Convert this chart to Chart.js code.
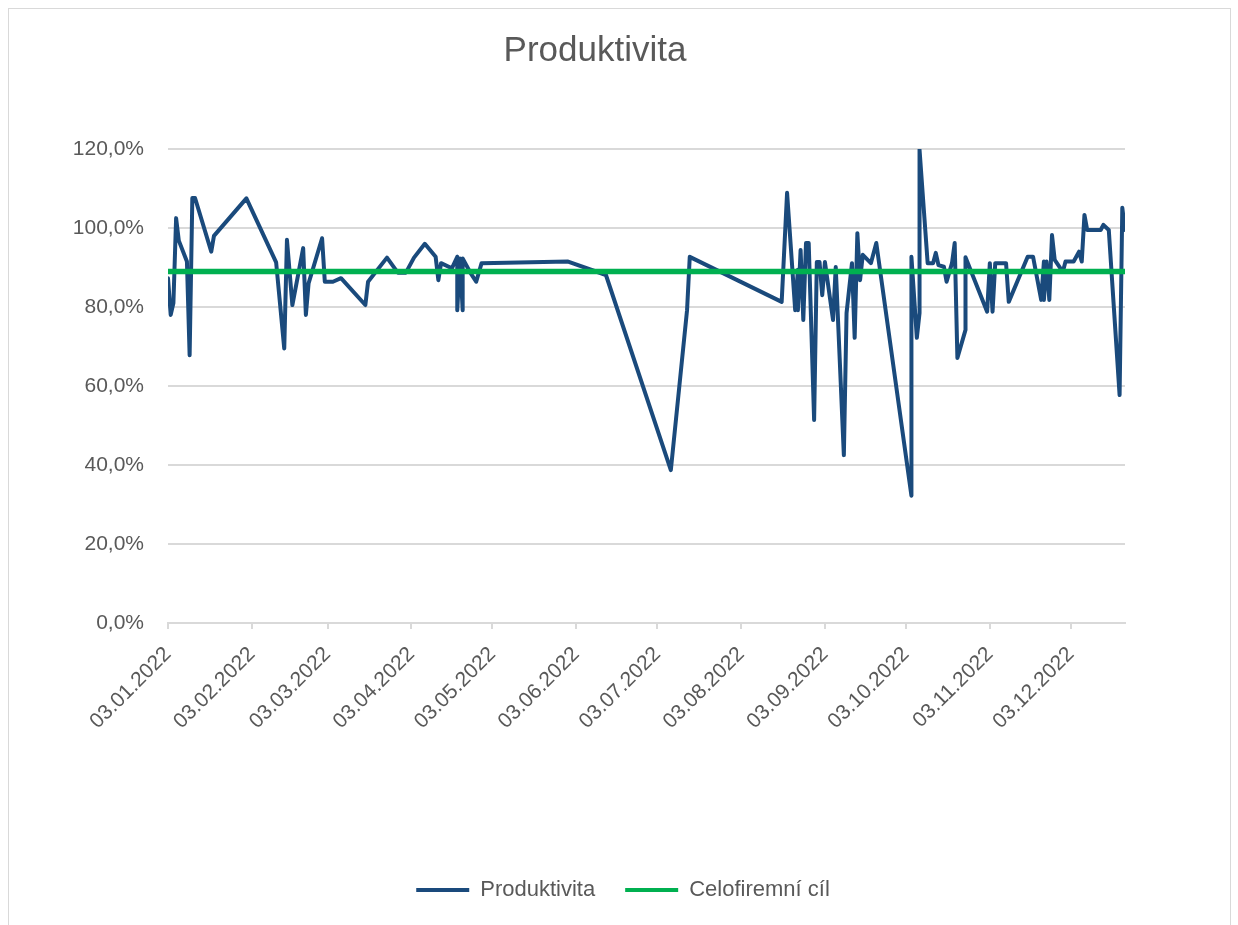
<!DOCTYPE html>
<html>
<head>
<meta charset="utf-8">
<script src="https://cdn.jsdelivr.net/npm/chart.js@4.4.0/dist/chart.umd.min.js"></script>
<style>
    html, body { margin: 0; padding: 0; background: #fff; }
    #wrap { position: relative; width: 1238px; height: 925px; overflow: hidden; }
    #frame { position: absolute; left: 8px; top: 8px; width: 1221px; height: 940px; border: 1px solid #d9d9d9; pointer-events: none; }
    canvas { position: absolute; left: 0; top: 0; }
</style>
</head>
<body>
<div id="wrap">
    <canvas id="myChart" width="1238" height="925"></canvas>
    <div id="frame"></div>
</div>
<script>
var datumy = [
    '03.01.2022', '04.01.2022', '05.01.2022', '06.01.2022', '07.01.2022', '10.01.2022', '11.01.2022',
    '12.01.2022', '13.01.2022', '19.01.2022', '20.01.2022', '01.02.2022', '12.02.2022', '15.02.2022',
    '16.02.2022', '18.02.2022', '22.02.2022', '23.02.2022', '24.02.2022', '01.03.2022', '02.03.2022',
    '05.03.2022', '08.03.2022', '17.03.2022', '18.03.2022', '25.03.2022', '29.03.2022', '01.04.2022',
    '04.04.2022', '08.04.2022', '12.04.2022', '13.04.2022', '14.04.2022', '18.04.2022', '20.04.2022',
    '20.04.2022', '21.04.2022', '22.04.2022', '22.04.2022', '25.04.2022', '27.04.2022', '29.04.2022',
    '31.05.2022', '14.06.2022', '08.07.2022', '14.07.2022', '15.07.2022', '18.08.2022', '20.08.2022',
    '23.08.2022', '24.08.2022', '24.08.2022', '25.08.2022', '26.08.2022', '27.08.2022', '28.08.2022',
    '30.08.2022', '31.08.2022', '01.09.2022', '02.09.2022', '03.09.2022', '06.09.2022', '07.09.2022',
    '10.09.2022', '11.09.2022', '13.09.2022', '14.09.2022', '15.09.2022', '16.09.2022', '17.09.2022',
    '20.09.2022', '22.09.2022', '05.10.2022', '05.10.2022', '07.10.2022', '08.10.2022', '08.10.2022',
    '11.10.2022', '13.10.2022', '14.10.2022', '15.10.2022', '17.10.2022', '18.10.2022', '20.10.2022',
    '21.10.2022', '22.10.2022', '25.10.2022', '25.10.2022', '02.11.2022', '03.11.2022', '04.11.2022',
    '05.11.2022', '09.11.2022', '10.11.2022', '17.11.2022', '19.11.2022', '22.11.2022', '23.11.2022',
    '23.11.2022', '24.11.2022', '25.11.2022', '26.11.2022', '27.11.2022', '30.11.2022', '01.12.2022',
    '04.12.2022', '06.12.2022', '07.12.2022', '08.12.2022', '09.12.2022', '14.12.2022', '15.12.2022',
    '17.12.2022', '21.12.2022', '22.12.2022', '23.12.2022'
];

var produktivita = [
    87.3, 78.0, 81.0, 102.5, 96.8, 91.5, 67.8,
    107.6, 107.6, 94.0, 98.0, 107.5, 91.3, 69.5,
    97.0, 80.5, 94.9, 78.0, 86.0, 97.4, 86.4,
    86.4, 87.3, 80.5, 86.4, 92.5, 88.7, 88.7,
    92.5, 96.0, 92.7, 86.8, 91.1, 89.8, 92.7,
    79.2, 92.3, 79.2, 92.3, 88.5, 86.4, 91.1,
    91.5, 88.1, 38.7, 79.2, 92.7, 81.3, 108.9,
    79.2, 89.4, 79.2, 94.4, 76.7, 96.2, 96.2,
    51.4, 91.4, 91.4, 83.0, 91.4, 76.7, 90.1,
    42.5, 78.5, 91.1, 72.2, 98.7, 86.8, 93.2,
    91.1, 96.2, 32.2, 92.7, 72.2, 78.5, 119.8,
    91.1, 91.1, 93.7, 90.6, 90.2, 86.4, 91.1,
    96.2, 67.1, 74.2, 92.6, 78.8, 91.1, 78.8,
    91.1, 91.1, 81.3, 92.7, 92.7, 81.8, 91.5,
    81.8, 91.5, 81.8, 98.2, 91.9, 88.9, 91.5,
    91.5, 94.0, 91.5, 103.3, 99.5, 99.5, 100.8,
    99.5, 57.7, 105.1, 99.5
];

var celofiremniCil = 89;

var tickDatumy = [
    '03.01.2022', '03.02.2022', '03.03.2022', '03.04.2022', '03.05.2022', '03.06.2022',
    '03.07.2022', '03.08.2022', '03.09.2022', '03.10.2022', '03.11.2022', '03.12.2022'
];

function denRoku(datum) {
    var casti = datum.split('.');
    var rok = +casti[2];
    var d = Date.UTC(rok, +casti[1] - 1, +casti[0]);
    return Math.round((d - Date.UTC(rok, 0, 1)) / 86400000) + 1;
}

var bodyProduktivita = datumy.map(function (datum, i) {
    return { x: denRoku(datum), y: produktivita[i] };
});

var bodyCil = [
    { x: denRoku(datumy[0]), y: celofiremniCil },
    { x: denRoku(datumy[datumy.length - 1]), y: celofiremniCil }
];

var tickDny = tickDatumy.map(denRoku);

// legenda je v originale o kus vpravo od stredu nadpisu
var posunLegendy = {
    id: 'posunLegendy',
    afterLayout: function (chart) {
        chart.legend.left += 28;
        chart.legend.right += 28;
    }
};

Chart.defaults.font.family = "'Liberation Sans', Arial, sans-serif";
Chart.defaults.color = '#595959';

var ctx = document.getElementById('myChart').getContext('2d');
var myChart = new Chart(ctx, {
    type: 'line',
    data: {
        datasets: [{
            label: 'Produktivita',
            data: bodyProduktivita,
            borderColor: '#1a4a7c',
            backgroundColor: '#1a4a7c',
            borderWidth: 4,
            pointRadius: 0,
            tension: 0,
            borderJoinStyle: 'round',
            borderCapStyle: 'round',
            order: 2
        }, {
            label: 'Celofiremní cíl',
            data: bodyCil,
            borderColor: '#00b050',
            backgroundColor: '#00b050',
            borderWidth: 5.5,
            pointRadius: 0,
            tension: 0,
            borderCapStyle: 'round',
            order: 1
        }]
    },
    plugins: [posunLegendy],
    options: {
        responsive: false,
        animation: false,
        events: [],
        layout: {
            padding: { left: 65, right: 113, top: 0, bottom: 14 }
        },
        scales: {
            x: {
                type: 'linear',
                min: denRoku(datumy[0]),
                max: denRoku(datumy[datumy.length - 1]),
                afterBuildTicks: function (scale) {
                    scale.ticks = tickDny.map(function (den) {
                        return { value: den };
                    });
                },
                afterFit: function (scale) {
                    scale.height = 226;
                },
                ticks: {
                    autoSkip: false,
                    minRotation: 45,
                    maxRotation: 45,
                    padding: 13,
                    font: { size: 21 },
                    callback: function (value) {
                        var i = tickDny.indexOf(value);
                        return i >= 0 ? tickDatumy[i] : '';
                    }
                },
                grid: {
                    drawOnChartArea: false,
                    drawTicks: true,
                    tickLength: 6,
                    color: '#d9d9d9',
                    lineWidth: 2
                },
                border: {
                    display: true,
                    color: '#d9d9d9',
                    width: 2
                }
            },
            y: {
                min: 0,
                max: 120,
                afterFit: function (scale) {
                    scale.width = 103;
                },
                ticks: {
                    stepSize: 20,
                    padding: 24,
                    font: { size: 21 },
                    callback: function (value) {
                        return value.toFixed(1).replace('.', ',') + '%';
                    }
                },
                grid: {
                    drawTicks: false,
                    color: '#d9d9d9',
                    lineWidth: 2
                },
                border: {
                    display: false
                }
            }
        },
        plugins: {
            title: {
                display: true,
                text: 'Produktivita',
                color: '#595959',
                font: { size: 35, weight: 'normal' },
                padding: { top: 30, bottom: 77 }
            },
            legend: {
                position: 'bottom',
                labels: {
                    boxWidth: 53,
                    boxHeight: 4,
                    padding: 30,
                    color: '#595959',
                    font: { size: 22 },
                    sort: function (a, b) {
                        return a.datasetIndex - b.datasetIndex;
                    },
                    generateLabels: function (chart) {
                        var polozky = Chart.defaults.plugins.legend.labels.generateLabels(chart);
                        polozky.forEach(function (p) {
                            p.lineWidth = 0;
                            p.fillStyle = p.strokeStyle;
                        });
                        return polozky;
                    }
                }
            },
            tooltip: {
                enabled: false
            }
        }
    }
});
</script>
</body>
</html>
